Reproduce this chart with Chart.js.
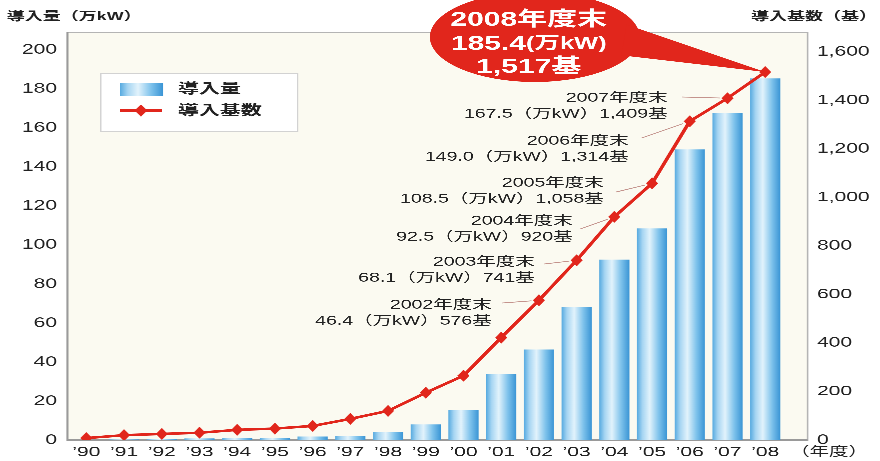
<!DOCTYPE html>
<html>
<head>
<meta charset="utf-8">
<script src="https://cdn.jsdelivr.net/npm/chart.js@4"></script>
<style>
  html, body { margin: 0; padding: 0; background: #fff; overflow: hidden; }
  /* the chart is laid out in a narrower box and widened, giving the wide lettering of the print layout */
  #wrap { position: absolute; left: 0; top: 0; width: 587px; height: 461px;
          transform-origin: 0 0; transform: scaleX(1.49915); }
</style>
</head>
<body>
<div id="wrap"><canvas id="c" width="587" height="461"></canvas></div>
<script>
// Fiscal years and category tick labels
const years = [1990, 1991, 1992, 1993, 1994, 1995, 1996, 1997, 1998, 1999,
               2000, 2001, 2002, 2003, 2004, 2005, 2006, 2007, 2008];
const categories = ['’90', '’91', '’92', '’93', '’94', '’95', '’96', '’97', '’98', '’99',
                    '’00', '’01', '’02', '’03', '’04', '’05', '’06', '’07', '’08'];
// 導入量 (万kW), cumulative installed capacity
const capacity = [0.1, 0.3, 0.4, 0.8, 1.0, 1.1, 1.8, 2.1, 4.0, 8.0,
                  15.5, 34.0, 46.4, 68.1, 92.5, 108.5, 149.0, 167.5, 185.4];
// 導入基数 (基), cumulative number of turbines
const units = [8, 20, 25, 30, 42, 47, 58, 87, 120, 195,
               265, 422, 576, 741, 920, 1058, 1314, 1409, 1517];
// Axis tick values
const capacityTicks = [0, 20, 40, 60, 80, 100, 120, 140, 160, 180, 200];
const unitTicks = [0, 200, 400, 600, 800, 1000, 1200, 1400, 1600];
// Years that get a year-end note, and the year in the red balloon
const notedYears = [2002, 2003, 2004, 2005, 2006, 2007];
const balloonYear = 2008;

const FONT = '"Liberation Sans", "Noto Sans CJK JP", sans-serif';
const RED = '#e1261c';
const TEXT = '#222222';

// placement of each year-end note: right edge of text, first row, leader start
const noteLayout = {
  2002: { x: 328.0, y: 305, lx: 335.0, ly: 303 },
  2003: { x: 356.7, y: 262, lx: 363.0, ly: 264 },
  2004: { x: 382.0, y: 221, lx: 387.0, ly: 229 },
  2005: { x: 402.7, y: 183, lx: 411.0, ly: 192 },
  2006: { x: 419.3, y: 141, lx: 428.0, ly: 138 },
  2007: { x: 445.3, y: 98,  lx: 455.0, ly: 97 }
};

function fmt(n) { return n.toLocaleString('en-US'); }

function barGradient(g, x0, x1) {
  const gr = g.createLinearGradient(x0, 0, x1, 0);
  gr.addColorStop(0, '#56aae0');
  gr.addColorStop(0.18, '#a6d5f2');
  gr.addColorStop(0.42, '#e2f3fc');
  gr.addColorStop(0.72, '#7fc3ec');
  gr.addColorStop(1, '#3a95d5');
  return gr;
}

function makeDiamond(w, h, color) {
  const k = 6;
  const c = document.createElement('canvas');
  c.width = w * k; c.height = h * k;
  const g = c.getContext('2d');
  g.fillStyle = color;
  g.beginPath();
  g.moveTo(w * k / 2, 0);
  g.lineTo(w * k, h * k / 2);
  g.lineTo(w * k / 2, h * k);
  g.lineTo(0, h * k / 2);
  g.closePath();
  g.fill();
  const img = new Image(w, h);
  img.src = c.toDataURL();
  return img;
}

const diamond = makeDiamond(8.5, 12, RED);

// cream plotting panel with a grey frame, reaching a little past the last category
const FRAME_EXTRA = 15.7;
const panelPlugin = {
  id: 'panel',
  beforeDraw(chart) {
    const { ctx, chartArea: a } = chart;
    ctx.save();
    ctx.fillStyle = '#ffffff';
    ctx.fillRect(0, 0, chart.width, chart.height);
    ctx.fillStyle = '#fbfaf1';
    ctx.fillRect(a.left, a.top, a.right + FRAME_EXTRA - a.left, a.bottom - a.top);
    ctx.strokeStyle = '#b4b4b4';
    ctx.lineWidth = 1;
    ctx.strokeRect(a.left, a.top + 0.5, a.right + FRAME_EXTRA - a.left, a.bottom - a.top);
    ctx.strokeStyle = '#9a9a9a';
    ctx.lineWidth = 1.4;
    ctx.beginPath();
    ctx.moveTo(a.left, a.top);
    ctx.lineTo(a.left, a.bottom);
    ctx.lineTo(a.right + FRAME_EXTRA, a.bottom);
    ctx.stroke();
    ctx.restore();
  }
};

// red balloon for the latest year, its tail pointing at that year's marker
const balloonPlugin = {
  id: 'balloon',
  beforeDatasetsDraw(chart) {
    const ctx = chart.ctx;
    const i = years.indexOf(balloonYear);
    const pt = chart.getDatasetMeta(1).data[i];
    const cx = 356.7, cy = 37, rx = 70, ry = 45;
    const a1 = -16 * Math.PI / 180, a2 = 24 * Math.PI / 180;
    ctx.save();
    ctx.fillStyle = RED;
    ctx.beginPath();
    ctx.ellipse(cx, cy, rx, ry, 0, 0, Math.PI * 2);
    ctx.fill();
    ctx.beginPath();
    ctx.moveTo(cx + rx * Math.cos(a1) - 6, cy + ry * Math.sin(a1));
    ctx.lineTo(pt.x, pt.y);
    ctx.lineTo(cx + rx * Math.cos(a2) - 6, cy + ry * Math.sin(a2));
    ctx.closePath();
    ctx.fill();

    ctx.fillStyle = '#ffffff';
    ctx.textAlign = 'center';
    ctx.textBaseline = 'middle';
    ctx.font = 'bold 20px ' + FONT;
    ctx.fillText(balloonYear + '年度末', cx - 4, 20);
    ctx.fillText(fmt(units[i]) + '基', cx - 4, 67);
    // second row: value in large type, unit in smaller type
    const val = capacity[i].toFixed(1);
    const unit = '(万kW)';
    ctx.font = 'bold 20px ' + FONT;
    const wv = ctx.measureText(val).width;
    ctx.font = 'bold 17px ' + FONT;
    const wu = ctx.measureText(unit).width;
    const x0 = cx - 4 - (wv + wu) / 2;
    ctx.textAlign = 'left';
    ctx.font = 'bold 20px ' + FONT;
    ctx.fillText(val, x0, 44);
    ctx.font = 'bold 17px ' + FONT;
    ctx.fillText(unit, x0 + wv, 44);
    ctx.restore();
  }
};

// year-end notes with thin leader lines to the markers
const notesPlugin = {
  id: 'notes',
  afterDatasetsDraw(chart) {
    const ctx = chart.ctx;
    const meta = chart.getDatasetMeta(1);
    ctx.save();
    notedYears.forEach(y => {
      const i = years.indexOf(y);
      const L = noteLayout[y];
      const pt = meta.data[i];
      const dx = pt.x - L.lx, dy = pt.y - L.ly;
      const len = Math.hypot(dx, dy);
      const cut = 5 / len;
      ctx.strokeStyle = 'rgba(190,135,130,0.9)';
      ctx.lineWidth = 0.8;
      ctx.beginPath();
      ctx.moveTo(L.lx, L.ly);
      ctx.lineTo(pt.x - dx * cut, pt.y - dy * cut);
      ctx.stroke();
      ctx.fillStyle = TEXT;
      ctx.textAlign = 'right';
      ctx.textBaseline = 'middle';
      ctx.font = '13px ' + FONT;
      ctx.fillText(y + '年度末', L.x, L.y);
      ctx.fillText(capacity[i].toFixed(1) + '（万kW）' + fmt(units[i]) + '基', L.x, L.y + 16);
    });
    ctx.restore();
  }
};

// axis titles, legend box and the year unit under the right axis
const framePlugin = {
  id: 'frameText',
  afterDraw(chart) {
    const ctx = chart.ctx;
    ctx.save();
    ctx.fillStyle = TEXT;
    ctx.textBaseline = 'middle';
    ctx.font = 'bold 12px ' + FONT;
    ctx.textAlign = 'left';
    ctx.fillText('導入量（万kW）', 4.5, 17);
    ctx.textAlign = 'right';
    ctx.fillText('導入基数（基）', 585, 17);
    ctx.font = '13px ' + FONT;
    ctx.fillText('（年度）', 579, 452);

    // legend
    const lx = 66.7, ly = 73, lw = 131.3, lh = 58;
    ctx.fillStyle = '#ffffff';
    ctx.fillRect(lx, ly, lw, lh);
    ctx.strokeStyle = '#d2d2d2';
    ctx.lineWidth = 1;
    ctx.strokeRect(lx + 0.5, ly + 0.5, lw, lh);
    ctx.fillStyle = barGradient(ctx, 80, 108.7);
    ctx.fillRect(80, 83, 28.7, 13);
    ctx.strokeStyle = RED;
    ctx.lineWidth = 2.5;
    ctx.beginPath();
    ctx.moveTo(80, 110.5);
    ctx.lineTo(108, 110.5);
    ctx.stroke();
    ctx.drawImage(diamond, 94 - 4.25, 110.5 - 6, 8.5, 12);
    ctx.fillStyle = TEXT;
    ctx.textAlign = 'left';
    ctx.font = 'bold 14px ' + FONT;
    ctx.fillText(chart.data.datasets[0].label, 118.7, 89.5);
    ctx.fillText(chart.data.datasets[1].label, 118.7, 111);
    ctx.restore();
  }
};

// fixed axis widths; the vertical scales claim no extra room above or below the plot
function fixWidth(w) {
  return s => { s.width = w; s.paddingTop = 0; s.paddingBottom = 0; };
}

const noGrid = { display: false, drawTicks: false };

function buildChart() {
  Chart.defaults.font.family = FONT;
  Chart.defaults.color = TEXT;
  new Chart(document.getElementById('c'), {
    data: {
      labels: categories,
      datasets: [
        {
          type: 'bar',
          label: '導入量',
          data: capacity,
          yAxisID: 'y',
          order: 2,
          barPercentage: 0.8,
          categoryPercentage: 1,
          borderWidth: 0,
          backgroundColor(c) {
            const ch = c.chart;
            const xs = ch.scales.x;
            if (!xs || !ch.chartArea || c.type !== 'data') return '#7cc0ea';
            const cx = xs.getPixelForValue(c.dataIndex);
            const w = (ch.chartArea.right - ch.chartArea.left) / categories.length * 0.8;
            return barGradient(ch.ctx, cx - w / 2, cx + w / 2);
          }
        },
        {
          type: 'line',
          label: '導入基数',
          data: units,
          yAxisID: 'y2',
          order: 1,
          borderColor: RED,
          borderWidth: 2.5,
          pointStyle: diamond,
          pointRadius: 6,
          pointHoverRadius: 6,
          tension: 0,
          fill: false
        }
      ]
    },
    options: {
      responsive: false,
      animation: false,
      devicePixelRatio: 3,
      layout: { padding: { top: 32, left: 0, right: 0, bottom: 0 } },
      plugins: { legend: { display: false }, tooltip: { enabled: false } },
      scales: {
        x: {
          grid: noGrid,
          border: { display: false },
          ticks: { padding: 4, maxRotation: 0, autoSkip: false, color: TEXT, font: { size: 14 } },
          afterFit(s) { s.height = 21; s.paddingLeft = 0; s.paddingRight = 0; }
        },
        y: {
          position: 'left',
          min: 0,
          max: 209.2,
          grid: noGrid,
          border: { display: false },
          ticks: { padding: 7, color: TEXT, font: { size: 14 } },
          afterBuildTicks(s) { s.ticks = capacityTicks.map(v => ({ value: v })); },
          afterFit: fixWidth(45)
        },
        y2: {
          position: 'right',
          min: 0,
          max: 1682,
          grid: noGrid,
          border: { display: false },
          ticks: { padding: 22, color: TEXT, font: { size: 14 }, callback: v => fmt(v) },
          afterBuildTicks(s) { s.ticks = unitTicks.map(v => ({ value: v })); },
          afterFit: fixWidth(64)
        }
      }
    },
    plugins: [panelPlugin, balloonPlugin, notesPlugin, framePlugin]
  });
}

diamond.decode().then(buildChart, buildChart);
</script>
</body>
</html>
